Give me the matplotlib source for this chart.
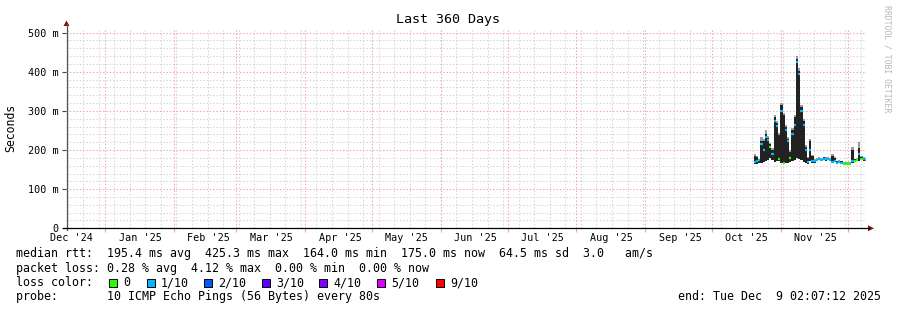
import datetime as dt
import matplotlib
matplotlib.use("Agg")
import matplotlib.pyplot as plt
import matplotlib.dates as mdates
from matplotlib.patches import Rectangle, Polygon

# ---------------- data ----------------
end_time = dt.datetime(2025, 12, 9, 2, 7, 12)
span_days = 360
start_time = end_time - dt.timedelta(days=span_days)
data_start = dt.datetime(2025, 10, 19, 18, 0)   # first consolidated (daily) point

median_ms = [170, 172, 175, 215, 200, 232, 225, 207, 190, 275, 262, 178, 300, 168,
             250, 222, 180, 240, 263, 425, 395, 300, 265, 199, 170, 199, 172,
             171, 175, 177, 174, 178, 176, 177, 175, 170, 172, 168, 169, 168, 164,
             164, 164, 165, 172, 173, 174, 191, 178, 176, 175]
low_ms = [165, 165, 168, 168, 170, 172, 175, 180, 175, 170, 172, 172, 168, 165,
          168, 168, 170, 172, 175, 180, 178, 175, 170, 168, 165, 172, 168,
          168, 172, 174, 171, 175, 173, 174, 172, 167, 169, 165, 166, 165, 161,
          161, 161, 162, 166, 170, 171, 172, 175, 173, 172]
high_ms = [186, 182, 178, 224, 222, 242, 230, 215, 200, 284, 270, 238, 314, 290,
           258, 229, 195, 250, 284, 432, 403, 309, 275, 207, 180, 224, 185,
           175, 178, 180, 177, 181, 179, 180, 178, 185, 180, 171, 172, 171, 167,
           167, 167, 168, 200, 176, 177, 205, 182, 179, 178]
cap_ms = [4, 3, 0, 8, 5, 10, 6, 4, 4, 6, 5, 6, 6, 5, 5, 5, 4, 6, 6, 8, 6, 6, 5, 5, 3, 5, 3,
          2, 2, 2, 2, 2, 2, 2, 2, 6, 3, 2, 2, 2, 2, 2, 2, 2, 8, 2, 2, 15, 3, 2, 2]
loss_idx = [1, 1, 1, 1, 1, 1, 1, 0, 1, 1, 1, 0, 1, 0, 1, 1, 0, 1, 1, 1, 1, 1, 1, 1, 1, 1, 1,
            1, 1, 1, 1, 1, 1, 1, 1, 1, 1, 1, 1, 1, 0, 0, 0, 0, 1, 0, 0, 1, 0, 1, 1]

loss_labels = ["0", "1/10", "2/10", "3/10", "4/10", "5/10", "9/10"]
loss_colors = ["#26ff00", "#00b8ff", "#0059ff", "#5e00ff", "#7e00ff", "#dd00ff", "#ff0000"]

y_ticks = [0, 100, 200, 300, 400, 500]
y_tick_labels = ["0", "100 m", "200 m", "300 m", "400 m", "500 m"]
y_max = 511

title = "Last 360 Days"
y_label = "Seconds"
legend_lines = [
    "median rtt:  195.4 ms avg  425.3 ms max  164.0 ms min  175.0 ms now  64.5 ms sd  3.0   am/s",
    "packet loss: 0.28 % avg  4.12 % max  0.00 % min  0.00 % now",
    "loss color:",
    "probe:       10 ICMP Echo Pings (56 Bytes) every 80s",
]
end_label = "end: Tue Dec  9 02:07:12 2025"
watermark = "RRDTOOL / TOBI OETIKER"

# ---------------- layout ----------------
W, H = 897, 310
MONO = "DejaVu Sans Mono"
fig = plt.figure(figsize=(W / 100, H / 100), dpi=100)
fig.patch.set_facecolor("white")

AX_L, AX_R, AX_B, AX_T = 65.5, 865.5, 228.3, 28.3
ax = fig.add_axes([AX_L / W, 1 - AX_B / H, (AX_R - AX_L) / W, (AX_B - AX_T) / H])
ax.set_facecolor("white")
x0 = mdates.date2num(start_time)
x1 = mdates.date2num(end_time)

minor_c = "#d2d2d2"
major_c = "#f0a4a4"
dash = (0, (1.3, 1.9))

# horizontal grid
for v in range(20, y_max + 1, 20):
    if v % 100 == 0:
        ax.axhline(v, color=major_c, lw=0.75, ls=dash, zorder=1)
    else:
        ax.axhline(v, color=minor_c, lw=0.75, ls=dash, zorder=0.5)

# vertical grid: weekly (Sundays) minor, month starts major
d = dt.datetime(2024, 12, 15)
while d < end_time:
    if d > start_time:
        ax.axvline(mdates.date2num(d), color=minor_c, lw=0.75, ls=dash, zorder=0.5)
    d += dt.timedelta(days=7)
month_starts = []
m = dt.datetime(2025, 1, 1)
while m < end_time:
    month_starts.append(m)
    ax.axvline(mdates.date2num(m), color=major_c, lw=0.75, ls=dash, zorder=1)
    m = dt.datetime(m.year + (m.month // 12), m.month % 12 + 1, 1)

# ---------------- smoke + median ----------------
t = [mdates.date2num(data_start + dt.timedelta(days=i)) for i in range(len(median_ms))]
body_h = [h - l for h, l in zip(high_ms, low_ms)]
ax.bar(t, body_h, bottom=low_ms, width=1.0, align="edge", color="#222222",
       linewidth=0, zorder=3)
ax.bar(t, cap_ms, bottom=high_ms, width=1.0, align="edge", color="#9c9c9c",
       linewidth=0, zorder=3)
ax.hlines(median_ms, t, [v + 1.0 for v in t],
          colors=[loss_colors[k] for k in loss_idx], lw=1.6, zorder=4)

# ---------------- axes / ticks ----------------
for s in ["top", "right", "left", "bottom"]:
    ax.spines[s].set_visible(False)

ax.set_yticks(y_ticks)
ax.set_yticklabels(y_tick_labels, family=MONO, fontsize=7.3)
ax.tick_params(axis="y", length=3, width=0.8, color="#444444", pad=2.2)

label_pos = []
month_names = []
lm = dt.datetime(2024, 12, 1)
while lm < end_time:
    p = mdates.date2num(lm + dt.timedelta(days=15.6))
    if x0 < p < x1:
        label_pos.append(p)
        month_names.append(lm.strftime("%b '%y"))
    lm = dt.datetime(lm.year + (lm.month // 12), lm.month % 12 + 1, 1)
ax.set_xticks(label_pos)
ax.set_xticklabels(month_names, family=MONO, fontsize=7.3)
ax.tick_params(axis="x", length=0, pad=3.2)
ax.set_xticks([mdates.date2num(v) for v in month_starts], minor=True)
ax.tick_params(axis="x", which="minor", length=3, width=0.8, color=major_c)

ax.set_xlim(x0, x1)
ax.set_ylim(0, y_max)

# ---------------- overlay in pixel coords ----------------
ov = fig.add_axes([0, 0, 1, 1])
ov.set_xlim(0, W)
ov.set_ylim(H, 0)
ov.axis("off")
ov.patch.set_alpha(0)

ov.plot([AX_L + 1, AX_L + 1], [AX_B + 2, 24], color="#555555", lw=0.9)
ov.plot([AX_L - 3, 869], [AX_B, AX_B], color="#000000", lw=0.9)
ov.add_patch(Polygon([[AX_L - 2, 26], [AX_L + 1, 20.5], [AX_L + 4, 26]],
                     closed=True, color="#7a1414", lw=0))
ov.add_patch(Polygon([[868, AX_B - 3], [874, AX_B], [868, AX_B + 3]],
                     closed=True, color="#7a1414", lw=0))

ov.text(448, 19, title, family=MONO, fontsize=9.6, ha="center", va="center")
ov.text(10.7, 127.5, y_label, family=MONO, fontsize=8.3, rotation=90,
        ha="center", va="center")
ov.text(887, 59, watermark, family=MONO, fontsize=5.9, rotation=270,
        color="#b8b8b8", ha="center", va="center")

rows_y = [254, 268.3, 282.7, 296.7]
for s, y in zip(legend_lines, rows_y):
    ov.text(16, y, s, family=MONO, fontsize=8.4, ha="left", va="center")
ov.text(881, rows_y[3], end_label, family=MONO, fontsize=8.4, ha="right", va="center")

sq_x = [108, 146, 203, 261, 318, 376, 435]
for xs, lab, col in zip(sq_x, loss_labels, loss_colors):
    ov.add_patch(Rectangle((xs + 0.5, rows_y[2] - 4), 8, 8, facecolor=col,
                           edgecolor="#000000", lw=0.7))
    ov.text(xs + 15, rows_y[2], lab, family=MONO, fontsize=8.4, ha="left", va="center")

fig.savefig("out.png", dpi=100, facecolor="white")
